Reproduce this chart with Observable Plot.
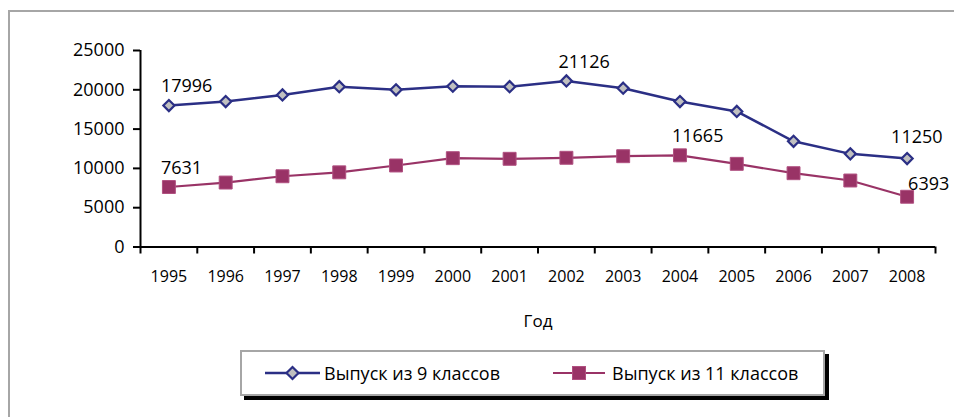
<!DOCTYPE html>
<html>
<head>
<meta charset="utf-8">
<script src="https://cdn.jsdelivr.net/npm/d3@7"></script>
<script src="https://cdn.jsdelivr.net/npm/@observablehq/plot@0.6"></script>
<style>
  html, body { margin: 0; padding: 0; background: #fff; }
  #wrap { position: relative; width: 954px; height: 417px; overflow: hidden; font-family: "Open Sans", sans-serif; }
  #frame { position: absolute; left: 8px; top: 10px; width: 2000px; height: 2000px; border-top: 2px solid #A6A6A6; border-left: 2px solid #A6A6A6; }
  #chart { position: absolute; left: 0; top: 0; }
  #legend { position: absolute; left: 240px; top: 350px; width: 581px; height: 42px; border: 2px solid #A6A6A6; background: #fff; box-shadow: 4px 4px 0 #000; }
  .item { position: absolute; top: 0; height: 42px; display: flex; align-items: center; font-size: 18px; color: #000; }
  .item svg { margin-right: 3px; }
</style>
</head>
<body>
<div id="wrap">
  <div id="frame"></div>
  <div id="chart"></div>
  <div id="legend"></div>
</div>
<script>
// ---- data ----
const years = [1995, 1996, 1997, 1998, 1999, 2000, 2001, 2002, 2003, 2004, 2005, 2006, 2007, 2008];
const grade9 = [17996, 18500, 19350, 20400, 20000, 20450, 20400, 21126, 20200, 18500, 17250, 13450, 11850, 11250];
const grade11 = [7631, 8200, 9000, 9500, 10370, 11300, 11220, 11350, 11550, 11665, 10580, 9390, 8460, 6393];
const series9Name = "Выпуск из 9 классов";
const series11Name = "Выпуск из 11 классов";
const yTicks = [0, 5000, 10000, 15000, 20000, 25000];
const labeled9 = [1995, 2002, 2008];
const labeled11 = [1995, 2004, 2008];
const xTitle = "Год";

// ---- styles ----
const navy = "#2B2F85";
const plum = "#993366";

const rows9 = years.map((year, i) => ({year, value: grade9[i]}));
const rows11 = years.map((year, i) => ({year, value: grade11[i]}));
const bounds = [years[0] - 0.5, ...years.map(y => y + 0.5)];
const lab9 = rows9.filter(d => labeled9.includes(d.year));
const lab11 = rows11.filter(d => labeled11.includes(d.year));
const font = "Open Sans";

const chart = Plot.plot({
  width: 954,
  height: 340,
  marginLeft: 140,
  marginRight: 19,
  marginTop: 50,
  marginBottom: 93.5,
  x: {type: "linear", domain: [bounds[0], bounds[bounds.length - 1]]},
  y: {domain: [0, 25000]},
  style: {fontFamily: font, fontSize: "18px", color: "#000", background: "transparent", overflow: "visible"},
  marks: [
    Plot.axisY({ticks: yTicks, tickSize: 7, tickPadding: 9, tickFormat: d => String(d), label: null, strokeWidth: 2, fontSize: 18}),
    Plot.axisX({ticks: bounds, tickSize: 7, tickFormat: () => "", label: null, strokeWidth: 2}),
    Plot.ruleX([bounds[0]], {stroke: "#000", strokeWidth: 2}),
    Plot.ruleY([0], {stroke: "#000", strokeWidth: 2}),
    Plot.text(years, {x: d => d, text: d => String(d), frameAnchor: "bottom", dy: 30, lineAnchor: "middle", fontSize: 16}),
    Plot.text([xTitle], {frameAnchor: "bottom", dy: 75, lineAnchor: "middle", fontSize: 17}),
    Plot.line(rows9, {x: "year", y: "value", stroke: navy, strokeWidth: 2.5}),
    Plot.dot(rows9, {x: "year", y: "value", symbol: "diamond2", r: 5, fill: "#C0C0C0", stroke: navy, strokeWidth: 2.2}),
    Plot.line(rows11, {x: "year", y: "value", stroke: plum, strokeWidth: 2.2}),
    Plot.dot(rows11, {x: "year", y: "value", symbol: "square", r: 7.3, fill: plum, stroke: "#B05080", strokeWidth: 1}),
    Plot.text(lab9.filter(d => d.year !== 2008), {x: "year", y: "value", text: d => String(d.value), textAnchor: "start", dx: -8, dy: -19, lineAnchor: "middle", fontSize: 18}),
    Plot.text(lab9.filter(d => d.year === 2008), {x: "year", y: "value", text: d => String(d.value), textAnchor: "start", dx: -16, dy: -21, lineAnchor: "middle", fontSize: 18}),
    Plot.text(lab11.filter(d => d.year !== 2008), {x: "year", y: "value", text: d => String(d.value), textAnchor: "start", dx: -8, dy: -19, lineAnchor: "middle", fontSize: 18}),
    Plot.text(lab11.filter(d => d.year === 2008), {x: "year", y: "value", text: d => String(d.value), textAnchor: "start", dx: 1, dy: -13, lineAnchor: "middle", fontSize: 18})
  ]
});
document.getElementById("chart").appendChild(chart);

// ---- legend ----
const legend = document.getElementById("legend");
function swatch(kind) {
  const s = kind === "diamond"
    ? `<line x1="0" y1="10" x2="55" y2="10" stroke="${navy}" stroke-width="2.5"/><path d="M27.5,4 L33.5,10 L27.5,16 L21.5,10 Z" fill="#C0C0C0" stroke="${navy}" stroke-width="2.2"/>`
    : `<line x1="0" y1="10" x2="52" y2="10" stroke="${plum}" stroke-width="2.2"/><rect x="19.5" y="3.5" width="13" height="13" fill="${plum}" stroke="#B05080" stroke-width="1"/>`;
  return `<svg width="56" height="20" viewBox="0 0 56 20">${s}</svg>`;
}
legend.innerHTML =
  `<div class="item" style="left:23px">${swatch("diamond")}<span>${series9Name}</span></div>` +
  `<div class="item" style="left:311px">${swatch("square")}<span>${series11Name}</span></div>`;
</script>
</body>
</html>
